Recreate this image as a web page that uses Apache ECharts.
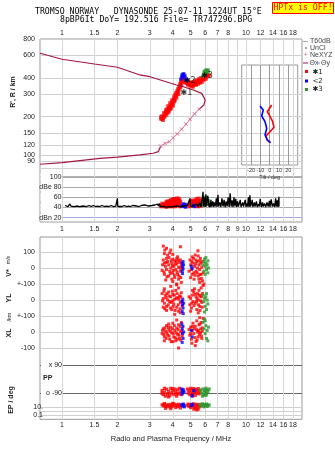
<!DOCTYPE html>
<html><head><meta charset="utf-8">
<script src="https://cdn.jsdelivr.net/npm/echarts@6/dist/echarts.min.js"></script>
<style>html,body{margin:0;padding:0;background:#fff}#c{width:335px;height:451px}</style>
</head><body><div id="c"></div>
<script>
// ---------- tick values / labels ----------
const freqTicks = [1,1.5,2,3,4,5,6,7,8,9,10,12,14,16,18];
const freqLabelsTop = [1,1.5,2,3,4,5,6,7,8,10,12,14,16,18];
const freqLabelsMid = [1,1.5,2,3,4,5,6,7,8,9,10,12,14,16,18];
const freqLabelsBottom = [1,1.5,2,3,4,5,6,7,8,10,12,14,16,18];
const heightTicks = [80,90,100,120,150,200,300,400,600,800];
const ampTicks = [20,40,60,80,100];
const tiltTicks = [-20,-10,0,10,20];

// ---------- main panel (f MHz, km) ----------
const thetaXUpper = [[0.76,620],[1.0,557],[1.5,512],[2.0,483],[2.65,421],[3.0,408],[4.2,352],[4.56,341],[5.17,322],[5.75,303],[6.0,269],[5.9,246],[5.56,228]];
const neXYZ = [[5.56,228],[5.25,210],[4.96,191],[4.72,175],[4.47,160],[4.23,147],[4.02,137],[3.83,128],[3.63,124],[3.44,118]];
const thetaXLower = [[3.44,118],[3.38,112],[3.34,107],[3.13,104],[2.65,101],[2.0,97],[1.61,95],[1.0,88],[0.76,85.5]];
const redMain = [[3.45,199],[3.50,192],[3.54,195],[3.50,202],[3.58,202],[3.54,188],[3.45,192],[3.63,210],[3.58,214],[3.67,217],[3.72,214],[3.67,225],[3.77,225],[3.81,233],[3.77,242],[3.86,238],[3.91,246],[3.86,255],[3.96,260],[4.01,255],[3.96,269],[4.06,274],[4.11,269],[4.06,284],[4.11,294],[4.16,289],[4.16,305],[4.22,300],[4.22,316],[4.27,311],[4.27,328],[4.32,322],[4.32,340],[4.38,346],[4.38,358],[4.43,365],[4.43,378],[4.49,385],[4.49,399],[3.72,229],[3.91,233],[4.01,242],[3.81,221],
[3.61,199],[3.70,206],[3.79,216],[3.88,228],[3.98,248],[4.08,262],[4.19,280],[4.30,298],[4.40,335],[4.46,352],[4.52,372],
[4.60,378],[4.66,371],[4.72,378],[4.78,365],[4.84,371],[4.90,358],[4.96,365],[5.02,371],[5.09,358],[5.15,365],[5.22,371],[5.28,378],[5.35,371],[5.42,385],[5.48,378],[5.55,392],[5.62,385],[5.69,399],[5.77,392],[5.84,406],[5.91,399],[5.99,413],[6.06,406],[6.14,421],[4.84,358],[5.09,352],[5.35,358],[5.62,371],
[4.84,352],[4.96,346],[5.09,346],[5.22,352],[5.35,352],[5.48,358],[5.62,365],[5.77,371],[5.91,385],[6.06,392],[5.02,358],[5.28,358],[4.72,365],[5.15,340],[6.22,413],[6.3,421]];
const blueMain = [[4.43,392],[4.49,406],[4.49,421],[4.55,428],[4.60,428],[4.66,413],[4.66,399],[4.72,385],[4.78,385],[4.55,413]];
const greenMain = [[5.91,444],[5.99,452],[6.06,460],[6.14,452],[6.22,444],[6.06,436],[5.91,421],[5.84,413],[5.99,428],[6.22,460]];
const echoLabels = [['✱1',4.75,305],['✱2',4.95,376],['✱3',6.14,413]];

// ---------- tilt inset (deg, relative height) ----------
const tiltRed = [[2.1,60],[-2.6,53.3],[-0.4,50],[3.2,43.3],[4.6,37.7],[0.3,33.3],[-4,29],[-2.6,25],[0.3,22.3]];
const tiltBlue = [[-10.4,59],[-6.9,55],[-8.6,49],[-5,43.3],[-3.2,36.7],[-5,30],[-2.6,25],[1,22.3]];

// ---------- amplitude panel (f, dB) ----------
const ampTrace = [[1.04,44],[1.06,46],[1.08,42],[1.10,47],[1.12,43],[1.14,46],[1.16,42],[1.18,45],[1.20,43],[1.22,46],[1.25,42],[1.28,45],[1.30,43],[1.33,44],[1.36,42],[1.40,44],[1.44,42],[1.48,44],[1.52,42],[1.56,43],[1.60,42],[1.65,44],[1.70,42],[1.75,43],[1.80,42],[1.85,44],[1.90,42],[1.96,43],[1.99,42],[2.0,58],[2.01,42],
[2.06,43],[2.12,42],[2.18,44],[2.24,42],[2.30,43],[2.36,42],[2.42,44],[2.48,42],[2.55,43],[2.62,42],[2.70,44],[2.76,42],[2.82,45],[2.88,42],[2.95,43],[3.02,42],[3.08,44],[3.14,42],[3.20,45],[3.26,42],[3.30,47],[3.34,43],[3.38,48],[3.42,42],
[3.5,41],[3.6,42],[3.7,41],[3.8,42],[3.9,41],[4.0,42],[4.1,41],[4.2,43],[4.3,41],[4.4,42],[4.5,41],[4.6,43],[4.7,41],[4.8,44],[4.9,42],[4.96,58],[5.0,42],[5.05,45],[5.1,41],
[5.2,44],[5.3,41],[5.4,47],[5.5,41],[5.6,50],[5.7,41],[5.8,62],[5.84,71],[5.88,42],[5.95,60],[6.0,41],[6.05,66],[6.1,42],[6.2,63],[6.3,41],
[6.35,48],[6.4,41],[6.45,55],[6.5,42],[6.6,52],[6.65,41],[6.7,50],[6.8,42],[6.9,58],[6.95,41],[7.04,65],[7.1,42],[7.2,50],[7.3,41],[7.4,58],[7.5,42],[7.6,55],[7.7,41],[7.8,52],[7.9,42],[8.0,60],[8.1,41],[8.2,68],[8.3,42],[8.4,54],[8.5,41],[8.6,60],[8.7,42],[8.8,57],[8.9,41],[9.0,52],[9.1,42],[9.3,55],[9.4,41],[9.6,50],[9.7,42],[9.9,55],[10.0,41],[10.1,48],[10.2,42],[10.3,60],[10.4,41],[10.5,64],[10.6,42],[10.8,55],[10.9,41],[11.1,50],[11.2,42],[11.4,52],[11.5,41],[11.7,47],[11.8,42],[11.95,57],[12.1,41],[12.3,50],[12.4,42],[12.6,48],[12.8,41],[13.0,50],[13.2,42],[13.4,53],[13.5,41],[13.7,56],[13.9,42],[14.1,48],[14.3,41],[14.5,58],[14.6,42],[14.8,54],[14.9,41],[15.1,61],[15.12,42]];
const ampRed = [[3.45,42],[3.5,45],[3.55,43],[3.6,47],[3.62,42],[3.68,49],[3.72,44],[3.75,51],[3.8,46],[3.82,53],[3.86,42],[3.9,55],[3.92,48],[3.96,44],[4.0,56],[4.02,51],[4.06,46],[4.1,57],[4.12,42],[4.16,54],[4.2,49],[4.22,56],[4.26,44],[4.3,53],[4.35,48],[4.38,42],[4.4,51],[4.3,58],[4.0,42],[3.7,41],
[3.5,48],[3.58,44],[3.65,46],[3.7,52],[3.78,48],[3.85,50],[3.88,45],[3.95,52],[4.05,54],[4.08,43],[4.14,50],[4.18,46],[4.25,52],[4.32,45],[4.36,55],[4.05,57],[4.2,58],
[4.9,45],[4.95,48],[5.05,50],[5.1,46],[5.15,53],[5.2,48],[5.3,55],[5.35,50],[5.4,57],[5.45,46],[5.5,52],[5.55,58],[5.6,48],[5.65,54],[5.7,44],[5.75,50],[5.3,43],[5.5,42],[5.05,43],
[4.92,42],[5.0,46],[5.08,54],[5.18,44],[5.25,51],[5.38,45],[5.42,53],[5.48,49],[5.58,52],[5.62,44],[5.68,47]];
const ampBlue = [[4.5,43],[4.55,45],[4.6,42],[4.65,44],[4.7,41],[4.58,47],[4.68,46],[5.2,44],[5.25,42]];
const ampGreen = [[5.8,52],[5.85,56],[5.9,49],[5.95,58],[6.0,53],[6.05,60],[6.1,50],[6.15,56],[6.2,47],[6.25,53],[6.3,49],[5.9,45],[6.05,47],[5.98,55]];

// ---------- V* (m/s), YL, XL (km) ----------
const velRed = [[3.55,137],[3.7,123],[3.9,112],[3.62,112],[3.6,90],[3.75,80],[3.85,95],[4.0,85],[4.4,133],[4.2,60],[3.55,50],[3.6,30],[3.65,10],[3.7,-10],[3.75,40],[3.8,20],[3.85,-20],[3.9,0],[3.95,30],[4.0,-30],[4.05,10],[4.1,45],[4.15,-10],[4.2,25],[4.25,-40],[4.3,5],[4.35,35],[4.4,-20],[4.45,15],[4.5,-5],[3.6,-40],[3.8,-50],[4.0,55],[4.1,-60],[4.3,-70],[4.45,-90],[3.7,60],[3.95,-70],[4.2,-100],[4.4,50],[4.25,70],[3.5,-15],
[3.52,20],[3.58,-25],[3.68,35],[3.72,-55],[3.82,65],[3.88,-35],[3.92,45],[3.98,15],[4.02,-15],[4.08,-45],[4.12,25],[4.18,40],[4.22,-25],[4.28,50],[4.32,-50],[4.38,0],[4.42,-60],[4.48,30],[3.66,-75],[4.0,-85],
[4.96,50],[5.1,70],[5.3,81],[5.48,108],[5.0,20],[5.05,-10],[5.15,30],[5.2,-30],[5.25,10],[5.35,-20],[5.4,40],[5.45,0],[5.5,-50],[5.55,20],[5.6,-10],[5.65,60],[5.7,-40],[5.75,5],[5.8,-80],[5.85,-30],[5.9,-100],[5.55,-70],[5.35,50],[5.1,-40],[5.6,-90],
[4.9,-20],[5.0,-60],[5.08,40],[5.18,60],[5.22,-70],[5.28,-45],[5.32,25],[5.42,-30],[5.5,75],[5.58,45],[5.62,-40],[5.68,30],[5.72,-65],[5.78,40]];
const velBlue = [[4.5,30],[4.52,10],[4.55,-5],[4.5,-20],[4.58,20],[4.55,40],[4.52,-35],[5.05,10],[5.1,-5]];
const velGreen = [[5.85,20],[5.9,40],[5.95,55],[6.0,10],[6.05,30],[6.1,-10],[6.15,20],[6.2,45],[6.25,0],[5.9,-20],[6.05,65],[6.2,-30],[6.0,-40]];
const ylRed = [[3.5,40],[3.55,10],[3.6,-20],[3.65,30],[3.7,-40],[3.75,0],[3.8,50],[3.85,-10],[3.9,20],[3.95,-60],[4.0,35],[4.05,-25],[4.1,5],[4.15,60],[4.2,-45],[4.25,15],[4.3,-70],[4.35,25],[4.4,-15],[4.45,45],[4.5,-35],[3.6,70],[3.9,85],[4.2,95],[4.4,-80],[3.7,-65],[4.0,-5],[3.55,-45],[4.3,75],[4.1,-90],
[3.52,-5],[3.58,55],[3.62,-55],[3.68,15],[3.72,40],[3.78,-30],[3.82,25],[3.88,-50],[3.92,-15],[3.98,55],[4.02,-40],[4.08,30],[4.12,-65],[4.18,10],[4.22,40],[4.28,-30],[4.32,5],[4.38,-55],[4.42,20],[4.48,-10],
[4.95,-30],[5.0,10],[5.05,-50],[5.1,30],[5.15,-10],[5.2,50],[5.3,-20],[5.35,20],[5.4,-60],[5.45,40],[5.5,0],[5.55,60],[5.6,-40],[5.65,25],[5.7,75],[5.75,-15],[5.8,40],[5.85,90],[5.5,-80],[5.25,70],
[4.9,20],[5.0,-70],[5.08,-20],[5.12,60],[5.22,-35],[5.28,35],[5.38,-10],[5.42,10],[5.52,-30],[5.58,30],[5.62,-65],[5.68,-5],[5.72,20],[5.78,-45]];
const ylBlue = [[4.5,-10],[4.52,-30],[4.55,-50],[4.5,-70],[4.58,-20],[4.56,-85],[4.53,5]];
const ylGreen = [[5.85,30],[5.9,-10],[5.95,10],[6.0,-40],[6.05,20],[6.1,-60],[6.15,0],[6.2,-25],[5.95,-75],[6.1,40]];
const xlRed = [[3.5,-10],[3.55,20],[3.6,-30],[3.65,5],[3.7,40],[3.75,-20],[3.8,15],[3.85,-45],[3.9,30],[3.95,-5],[4.0,55],[4.05,-30],[4.1,10],[4.15,-55],[4.2,25],[4.25,-15],[4.3,45],[4.35,-40],[4.4,0],[4.45,60],[4.5,-25],[4.3,-100],[3.6,-55],[4.0,-60],[3.8,50],[4.2,75],
[3.52,10],[3.58,-15],[3.62,25],[3.68,-40],[3.72,-5],[3.78,30],[3.82,-25],[3.88,5],[3.92,-60],[3.98,20],[4.02,-10],[4.08,40],[4.12,-35],[4.18,-5],[4.22,-45],[4.28,15],[4.32,-20],[4.38,35],[4.42,-50],[4.48,10],
[4.95,-20],[5.0,30],[5.05,-45],[5.1,10],[5.15,55],[5.2,-10],[5.3,35],[5.35,-60],[5.4,70],[5.45,0],[5.5,-30],[5.55,45],[5.6,90],[5.65,-5],[5.7,60],[5.75,-40],[5.8,25],[5.85,85],[5.3,-85],
[4.9,15],[5.0,-10],[5.08,-70],[5.12,35],[5.22,20],[5.28,-35],[5.38,15],[5.42,-50],[5.52,10],[5.58,-15],[5.62,50],[5.68,20],[5.72,-25],[5.78,5]];
const xlBlue = [[4.48,50],[4.5,20],[4.52,-10],[4.55,-40],[4.5,-65],[4.58,0],[4.54,35],[5.1,-30],[5.05,10]];
const xlGreen = [[5.85,60],[5.9,20],[5.95,80],[6.0,-10],[6.05,40],[6.1,-40],[6.15,10],[6.2,-55],[6.25,30],[6.0,70]];

// ---------- PP (deg), EP (deg) ----------
const ppRed = [[3.5,-75],[3.55,-100],[3.6,-85],[3.65,-110],[3.7,-65],[3.75,-95],[3.8,-80],[3.85,-105],[3.9,-60],[3.95,-90],[4.0,-75],[4.05,-100],[4.1,-65],[4.15,-85],[4.2,-110],[4.25,-70],[4.3,-95],[4.35,-60],[4.4,-85],[4.45,-100],[3.6,-60],[3.8,-115],[4.0,-62],[4.2,-95],[3.5,-92],
[4.8,-65],[4.85,-90],[4.9,-75],[4.95,-100],[5.0,-60],[5.05,-85],[5.1,-70],[5.15,-95],[5.2,-62],[5.25,-80],[5.3,-105],[5.35,-68],[5.4,-90],[5.45,-75],[5.5,-62],[5.55,-95],[5.6,-80],[5.1,-110]];
const ppBlue = [[4.48,-65],[4.52,-80],[4.56,-70],[4.5,-95],[4.6,-85],[5.1,-107],[5.2,-75]];
const ppGreen = [[5.65,-70],[5.75,-90],[5.85,-65],[5.9,-100],[5.95,-75],[6.0,-85],[6.05,-60],[6.1,-95],[6.15,-70],[6.2,-80],[6.3,-65],[5.8,-110],[6.05,-105]];
const epRed = [[3.5,40],[3.55,20],[3.6,60],[3.65,15],[3.7,35],[3.75,12],[3.8,50],[3.85,25],[3.9,10],[3.95,45],[4.0,18],[4.05,70],[4.1,30],[4.15,8],[4.2,40],[4.25,14],[4.3,55],[4.35,22],[4.4,6],[4.45,35],[3.65,5],[3.9,4],[4.0,90],[3.6,80],
[4.8,30],[4.85,60],[4.9,15],[4.95,40],[5.0,8],[5.05,45],[5.15,20],[5.2,70],[5.25,10],[5.3,35],[5.35,5],[5.4,50],[5.45,18],[5.5,3],[5.55,40],[5.6,12],[5.4,2],[5.2,3]];
const epBlue = [[4.48,40],[4.52,20],[4.56,60],[4.6,30],[4.62,12],[5.05,25],[5.1,50]];
const epGreen = [[5.65,50],[5.7,20],[5.8,70],[5.85,30],[5.9,12],[5.95,45],[6.0,25],[6.1,60],[6.15,15],[6.2,40],[6.3,30]];

// ---------- build ----------
const lg = Math.log10;
const X_MIN = -0.1196, X_MAX = 1.3043;
const logXY = a => a.map(p => [lg(p[0]), lg(p[1])]);
const logX = a => a.map(p => [lg(p[0]), p[1]]);
const fmtF = v => String(+Math.pow(10, v).toFixed(2));
const FONT = '"Liberation Sans", Arial, sans-serif';
const RED = '#ff0000', BLUE = '#0000ff', GREEN = '#2a962a', DARKRED = '#a5153f', PINK = '#e0709a';
const GRIDC = '#d6d6d6';
const lab = (o) => Object.assign({show:true, fontSize:7, color:'#222', fontFamily:FONT}, o);

function fx(gi, labels, pos, margin) {
  return {type:'value', gridIndex:gi, min:X_MIN, max:X_MAX, position:pos||'bottom',
    axisLine:{show:false}, axisTick:{show:false, customValues:freqTicks.map(lg)},
    splitLine:{show:true, lineStyle:{color:GRIDC, width:1}},
    axisLabel: labels ? lab({customValues:labels.map(lg), formatter:fmtF, margin:margin}) : {show:false}};
}
function fy(gi, min, max, ticks, labelCfg, lineColor) {
  return {type:'value', gridIndex:gi, min:min, max:max,
    axisLine:{show:false}, axisTick:{show:false, customValues:ticks},
    splitLine:{show:true, lineStyle:{color:lineColor||'#d0d0d0', width:1}},
    axisLabel: labelCfg ? lab(labelCfg) : {show:false}};
}
const G = (o) => Object.assign({left:40, width:262, outerBoundsMode:'none', containLabel:false, show:false}, o);

const grid = [
  G({top:39, height:138, show:true, borderColor:'#999', borderWidth:1}),
  G({top:177, height:45, show:true, borderColor:'#999', borderWidth:1}),
  {left:241.7, top:65, width:56, height:100, show:true, borderColor:'#999', borderWidth:1, outerBoundsMode:'none'},
  G({top:237, height:47}),
  G({top:284, height:32}),
  G({top:316, height:49}),
  G({top:365, height:35}),
  G({top:400, height:19.3}),
  G({top:237, height:182.3, show:true, borderColor:'#999', borderWidth:1})
];

const xAxis = [
  fx(0, freqLabelsTop, 'top', 2),
  fx(1, freqLabelsMid, 'bottom', 4),
  {type:'value', gridIndex:2, min:-30, max:30, axisLine:{show:false},
   axisTick:{show:false, customValues:tiltTicks}, splitLine:{show:true, lineStyle:{color:'#9a9a9a'}},
   axisLabel:{show:true, customValues:tiltTicks, fontSize:5.5, color:'#333', margin:2, fontFamily:FONT},
   name:'Tilt / deg', nameLocation:'middle', nameGap:9, nameTextStyle:{fontSize:5.5, color:'#333', fontFamily:FONT}},
  fx(3), fx(4), fx(5), fx(6),
  fx(7, freqLabelsBottom, 'bottom', 2.5),
  {type:'value', gridIndex:8, show:false, min:0, max:1, splitLine:{show:false}}
];

const heightFmt = v => String(Math.round(Math.pow(10, v)));
const yAxis = [
  fy(0, 1.833, lg(800), heightTicks.map(lg), {customValues:heightTicks.map(lg), formatter:heightFmt, margin:5}, '#cfcfcf'),
  {type:'value', gridIndex:1, min:11.6, max:100, axisLine:{show:false},
   axisTick:{show:false, customValues:ampTicks},
   splitLine:{show:true, lineStyle:{color:['#a8a8e0','#a8a8a8','#a8a8a8','#a8a8a8','#a8a8a8'], width:1}},
   axisLabel:lab({customValues:ampTicks, inside:true, align:'right', margin:21.5, width:21, backgroundColor:'#fff',
     formatter: v => v===80 ? 'dBe 80' : (v===20 ? 'dBn 20' : String(v))})},
  {type:'value', gridIndex:2, min:0, max:100, show:false, splitLine:{show:false}},
  fy(3, -100, 193.75, [0,100], {customValues:[0,100], margin:5, formatter: v => String(v)}),
  fy(4, -100, 100, [0,100], {customValues:[0,100], margin:5, formatter: v => v===0 ? '0' : '+-100'}),
  fy(5, -206.25, 100, [-100,0,100], {customValues:[-100,0,100], margin:5, formatter: v => v===100 ? '+-100' : String(v)}),
  {type:'value', gridIndex:6, min:-135, max:90, axisLine:{show:false},
   axisTick:{show:false, customValues:[-90,90]},
   splitLine:{show:true, lineStyle:{color:'#666', width:1}},
   axisLabel:lab({customValues:[-90,90], inside:true, align:'right', margin:22, width:21, backgroundColor:'#fff',
     formatter: v => v===90 ? 'x 90' : 'o -90'})},
  fy(7, -2.117, 2.818, [-1,0,1], {customValues:[-1,1], margin:-3, formatter: v => v===1 ? '10.' : '0.1'}),
  {type:'value', gridIndex:8, show:false, min:0, max:1, splitLine:{show:false}}
];

function sc(gi, data, color, size) {
  return {type:'scatter', xAxisIndex:gi, yAxisIndex:gi, data:data, symbol:'rect', symbolSize:size||3,
    itemStyle:{color:color}, silent:true, animation:false};
}
const series = [
  {type:'line', xAxisIndex:0, yAxisIndex:0, data:logXY(thetaXUpper), symbol:'none', lineStyle:{color:DARKRED, width:1.2}, silent:true, animation:false},
  {type:'line', xAxisIndex:0, yAxisIndex:0, data:logXY(neXYZ), symbol:'path://M0 0L10 10M10 0L0 10', symbolSize:3.5, showSymbol:true,
   itemStyle:{color:'rgba(0,0,0,0)', borderColor:PINK, borderWidth:1}, lineStyle:{color:PINK, width:1}, silent:true, animation:false},
  {type:'line', xAxisIndex:0, yAxisIndex:0, data:logXY(thetaXLower), symbol:'none', lineStyle:{color:DARKRED, width:1.2}, silent:true, animation:false},
  sc(0, logXY(redMain), RED, 3.6), sc(0, logXY(blueMain), BLUE, 3.3), sc(0, logXY(greenMain), GREEN, 3.3),
  {type:'scatter', xAxisIndex:0, yAxisIndex:0, symbolSize:1, itemStyle:{color:'rgba(0,0,0,0)'}, silent:true, animation:false,
   data: echoLabels.map(e => ({name:e[0], value:[lg(e[1]), lg(e[2])]})),
   label:{show:true, position:'inside', formatter:'{b}', color:'#000', fontSize:8, fontFamily:'"DejaVu Sans", sans-serif'}},
  {type:'line', xAxisIndex:2, yAxisIndex:2, data:tiltRed, symbol:'none', lineStyle:{color:RED, width:1.6}, silent:true, animation:false},
  {type:'line', xAxisIndex:2, yAxisIndex:2, data:tiltBlue, symbol:'none', lineStyle:{color:BLUE, width:1.6}, silent:true, animation:false},
  {type:'line', xAxisIndex:1, yAxisIndex:1, data:logX(ampTrace), symbol:'none', lineStyle:{color:'#000', width:1.3}, silent:true, animation:false},
  sc(1, logX(ampRed), RED, 3.6), sc(1, logX(ampBlue), BLUE, 3.4), sc(1, logX(ampGreen), GREEN, 3.6),
  sc(3, logX(velRed), RED), sc(3, logX(velBlue), BLUE), sc(3, logX(velGreen), GREEN),
  sc(4, logX(ylRed), RED), sc(4, logX(ylBlue), BLUE), sc(4, logX(ylGreen), GREEN),
  sc(5, logX(xlRed), RED), sc(5, logX(xlBlue), BLUE), sc(5, logX(xlGreen), GREEN),
  sc(6, logX(ppRed), RED, 3.3), sc(6, logX(ppBlue), BLUE, 3.3), sc(6, logX(ppGreen), GREEN, 3.3),
  sc(7, epRed.map(p => [lg(p[0]), lg(p[1])]), RED, 3.2), sc(7, epBlue.map(p => [lg(p[0]), lg(p[1])]), BLUE, 3.2), sc(7, epGreen.map(p => [lg(p[0]), lg(p[1])]), GREEN, 3.2)
];

function T(text, x, y, o) {
  o = o || {};
  return {type:'text', x:x, y:y, rotation:o.rot||0, silent:true, z:100,
    style:{text:text, font:o.font||('7px ' + FONT), fill:o.fill||'#444',
      align:o.align||'left', textAlign:o.align||'left', verticalAlign:'middle', textVerticalAlign:'middle'}};
}
function Ln(x1, y1, x2, y2, c) {
  return {type:'line', silent:true, z:100, shape:{x1:x1,y1:y1,x2:x2,y2:y2}, style:{stroke:c, lineWidth:1}};
}
const MONO = '8.2px "DejaVu Sans Mono", monospace';
const R = Math.PI/2;
const graphic = [
  T('TROMSO NORWAY   DYNASONDE 25-07-11 1224UT 15°E', 35, 12, {font:MONO, fill:'#000'}),
  T('8pBP6It DoY= 192.516 File= TR747296.BPG', 60, 19.5, {font:MONO, fill:'#000'}),
  {type:'rect', silent:true, z:100, shape:{x:272.5, y:2.5, width:61, height:11}, style:{fill:'#ffff00', stroke:'#ff0000', lineWidth:1}},
  T('HPTx is OFF!', 303, 8, {font:MONO, fill:'#ff0000', align:'center'}),
  // legend
  Ln(303, 41.5, 308, 41.5, '#aaa'), T('T60dB', 310, 41.5),
  {type:'circle', silent:true, z:100, shape:{cx:306, cy:48, r:0.7}, style:{fill:'#000'}}, T('UnCl', 310, 48),
  T('+', 305.5, 55.5, {fill:PINK, align:'center'}), T('NeXYZ', 310, 55.5),
  Ln(303, 63, 308, 63, DARKRED), T('Θx', 309.5, 63), Ln(316, 63, 320, 63, '#8a8ac8'), T('Θy', 321, 63),
  {type:'rect', silent:true, z:100, shape:{x:305, y:70, width:3, height:3}, style:{fill:RED}}, T('✱1', 312.5, 72, {fill:'#222', font:'7px "DejaVu Sans", sans-serif'}),
  {type:'rect', silent:true, z:100, shape:{x:305, y:79.5, width:3, height:3}, style:{fill:BLUE}}, T('<2', 312.5, 81, {fill:'#222', font:'7px "DejaVu Sans", sans-serif'}),
  {type:'rect', silent:true, z:100, shape:{x:305, y:88, width:3, height:3}, style:{fill:GREEN}}, T('✱3', 312.5, 89.5, {fill:'#222', font:'7px "DejaVu Sans", sans-serif'}),
  // axis names
  T("R', R / km", 13, 92, {rot:R, align:'center', fill:'#222', font:'bold 7px ' + FONT}),
  T('V*', 9, 273, {rot:R, align:'center', fill:'#222', font:'bold 7px ' + FONT}),
  T('m/s', 9, 260, {rot:R, align:'center', fill:'#222', font:'5px ' + FONT}),
  T('YL', 9, 298, {rot:R, align:'center', fill:'#222', font:'bold 7px ' + FONT}),
  T('/km', 9, 317, {rot:R, align:'center', fill:'#222', font:'5.5px ' + FONT}),
  T('XL', 9, 333, {rot:R, align:'center', fill:'#222', font:'bold 7px ' + FONT}),
  T('EP / deg', 11, 400, {rot:R, align:'center', fill:'#222', font:'bold 7px ' + FONT}),
  T('PP', 43, 378, {fill:'#222', font:'bold 7px ' + FONT}),
  T('Radio and Plasma Frequency / MHz', 171, 439, {align:'center', fill:'#222', font:'7.5px ' + FONT})
];

const chart = echarts.init(document.getElementById('c'), null, {renderer:'canvas'});
chart.setOption({animation:false, backgroundColor:'#fff', textStyle:{fontFamily:FONT},
  grid:grid, xAxis:xAxis, yAxis:yAxis, series:series, graphic:graphic});
</script></body></html>
